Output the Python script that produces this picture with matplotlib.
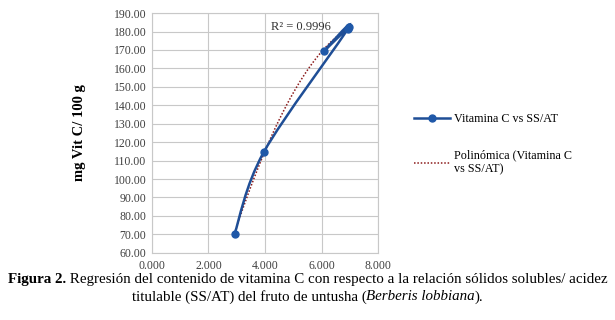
import numpy as np
import matplotlib
matplotlib.use('Agg')
import matplotlib.pyplot as plt
from matplotlib.path import Path
from matplotlib.patches import PathPatch
from matplotlib.lines import Line2D

# Data (series order as plotted)
ss_at = [2.92, 3.95, 6.93, 6.08, 6.95]
vit_c = [70.2, 114.5, 181.6, 169.3, 182.3]
r2_label = 'R² = 0.9996'
x_ticks = [0, 2, 4, 6, 8]
y_ticks = [60, 70, 80, 90, 100, 110, 120, 130, 140, 150, 160, 170, 180, 190]

plt.rcParams['font.family'] = ['Liberation Serif', 'DejaVu Serif']

fig = plt.figure(figsize=(6.15, 3.2), dpi=100)
ax = fig.add_axes([0.247, 0.21, 0.368, 0.749])

blue = '#1f4e96'
mark = '#1f58a8'
red = '#8b1a1a'


def smooth_path(xs, ys):
    # Catmull-Rom style smoothing like Excel's smoothed line
    pts = np.column_stack([xs, ys])
    verts = [pts[0]]
    codes = [Path.MOVETO]
    n = len(pts)
    for i in range(n - 1):
        p0 = pts[i - 1] if i > 0 else pts[i]
        p1 = pts[i]
        p2 = pts[i + 1]
        p3 = pts[i + 2] if i + 2 < n else pts[i + 1]
        c1 = p1 + (p2 - p0) / 6.0
        c2 = p2 - (p3 - p1) / 6.0
        verts += [c1, c2, p2]
        codes += [Path.CURVE4] * 3
    return Path(verts, codes)


ax.add_patch(PathPatch(smooth_path(ss_at, vit_c), fill=False, edgecolor=blue,
                       linewidth=1.8, zorder=3))
ax.plot(ss_at, vit_c, 'o', color=mark, markersize=5, zorder=4)

# polynomial (order 2) trendline
coef = np.polyfit(ss_at, vit_c, 2)
xt = np.linspace(min(ss_at), max(ss_at), 100)
ax.plot(xt, np.polyval(coef, xt), linestyle=(0, (1, 1.2)), color=red,
        linewidth=1.1, zorder=2)

ax.text(4.2, 182.5, r2_label, fontsize=9, color='#333333', va='center')

ax.set_xlim(0, 8)
ax.set_ylim(60, 190)
ax.set_xticks(x_ticks)
ax.set_yticks(y_ticks)
ax.set_xticklabels([f'{v:.3f}' for v in x_ticks])
ax.set_yticklabels([f'{v:.2f}' for v in y_ticks])
ax.tick_params(length=0, labelsize=8.5, colors='#404040', pad=4)
ax.tick_params(axis='x', pad=5)
ax.grid(True, color='#c8c8c8', linewidth=0.8)
ax.set_axisbelow(True)
for s in ax.spines.values():
    s.set_color('#c8c8c8')
    s.set_linewidth(0.8)

ax.set_ylabel('mg Vit C/ 100 g', fontsize=10.5, fontweight='bold', labelpad=20)

handles = [
    Line2D([], [], color=blue, linewidth=1.8, marker='o', markersize=5,
           markerfacecolor=mark, markeredgecolor=mark),
    Line2D([], [], color=red, linewidth=1.1, linestyle=(0, (1, 1.2))),
]
fig.legend(handles, ['Vitamina C vs SS/AT', 'Polinómica (Vitamina C\nvs SS/AT)'],
           loc='upper left', bbox_to_anchor=(0.655, 0.68), frameon=False,
           fontsize=8.7, handlelength=3.0, handletextpad=0.3, labelspacing=2.0)

# caption
cap_size = 10.8
fig.canvas.draw()
r = fig.canvas.get_renderer()
part1 = 'Figura 2.'
part2 = ' Regresión del contenido de vitamina C con respecto a la relación sólidos solubles/ acidez'
t1 = fig.text(0, 0.128, part1, fontsize=cap_size, fontweight='bold', va='center')
t2 = fig.text(0, 0.128, part2, fontsize=cap_size, va='center')
w1 = t1.get_window_extent(r).width
w2 = t2.get_window_extent(r).width
x0 = (615 - w1 - w2) / 2
t1.set_x(x0 / 615)
t2.set_x((x0 + w1) / 615)

parts = [('titulable (SS/AT) del fruto de untusha (', 'normal'),
         ('Berberis lobbiana', 'italic'), (').', 'normal')]
texts = [fig.text(0, 0.072, p, fontsize=cap_size, style=st, va='center') for p, st in parts]
widths = [t.get_window_extent(r).width for t in texts]
x = (615 - sum(widths)) / 2
for t, w in zip(texts, widths):
    t.set_x(x / 615)
    x += w

fig.savefig('out.png', dpi=100)
